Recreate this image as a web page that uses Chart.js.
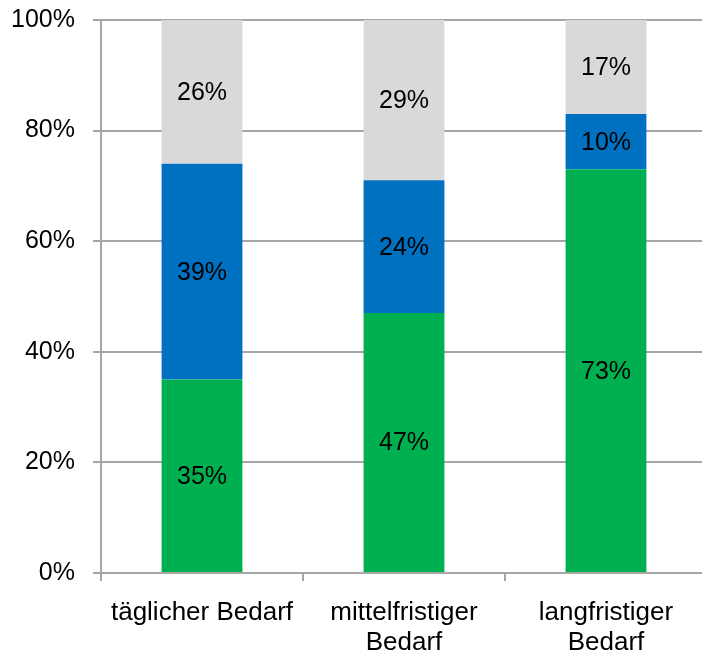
<!DOCTYPE html>
<html>
<head>
<meta charset="utf-8">
<script src="https://cdn.jsdelivr.net/npm/chart.js@4.4.1/dist/chart.umd.min.js"></script>
<style>
  html, body { margin: 0; padding: 0; background: #fff; overflow: hidden; }
  #wrap { position: relative; width: 712px; height: 666px; margin-top: -13px; }
</style>
</head>
<body>
<div id="wrap"><canvas id="chart"></canvas></div>
<script>
const categories = [
  "täglicher Bedarf",
  ["mittelfristiger", "Bedarf"],
  ["langfristiger", "Bedarf"],
];
const greenValues = [35, 47, 73];
const blueValues = [39, 24, 10];
const greyValues = [26, 29, 17];
const yTicks = [0, 20, 40, 60, 80, 100];

const FONT = "'Liberation Sans', Arial, sans-serif";
const AXIS_COLOR = "#a6a6a6";

// draws the percentage in the middle of every segment
const segmentLabels = {
  id: "segmentLabels",
  afterDatasetsDraw(chart) {
    const { ctx } = chart;
    ctx.save();
    ctx.font = `25px ${FONT}`;
    ctx.fillStyle = "#000";
    ctx.textAlign = "center";
    ctx.textBaseline = "middle";
    chart.data.datasets.forEach((ds, di) => {
      chart.getDatasetMeta(di).data.forEach((bar, i) => {
        const { x, y, base } = bar.getProps(["x", "y", "base"], true);
        ctx.fillText(`${ds.data[i]}%`, x, (y + base) / 2 + 1);
      });
    });
    ctx.restore();
  },
};

new Chart(document.getElementById("chart"), {
  type: "bar",
  data: {
    labels: categories,
    datasets: [
      { data: greenValues, backgroundColor: "#00b050" },
      { data: blueValues, backgroundColor: "#0070c0" },
      { data: greyValues, backgroundColor: "#d9d9d9" },
    ],
  },
  options: {
    responsive: true,
    maintainAspectRatio: false,
    animation: false,
    events: [],
    layout: { padding: { top: 7, right: 5, left: 0, bottom: 0 } },
    datasets: { bar: { categoryPercentage: 0.4, barPercentage: 1, borderWidth: 0 } },
    plugins: { legend: { display: false }, tooltip: { enabled: false } },
    scales: {
      x: {
        stacked: true,
        offset: true,
        border: { color: AXIS_COLOR, width: 2 },
        grid: {
          offset: true,
          drawOnChartArea: false,
          color: AXIS_COLOR,
          lineWidth: 2,
          tickLength: 8,
        },
        ticks: {
          color: "#000",
          padding: 17,
          maxRotation: 0,
          font: { family: FONT, size: 26, lineHeight: 1.15 },
        },
        afterFit(scale) { scale.height = 80; },
      },
      y: {
        stacked: true,
        min: 0,
        max: 100,
        afterBuildTicks(scale) { scale.ticks = yTicks.map((v) => ({ value: v })); },
        border: { color: AXIS_COLOR, width: 2 },
        grid: { color: AXIS_COLOR, lineWidth: 2, tickLength: 8 },
        ticks: {
          color: "#000",
          padding: 18,
          font: { family: FONT, size: 25 },
          callback: (v) => `${v}%`,
        },
        afterFit(scale) { scale.width = 101; },
      },
    },
  },
  plugins: [segmentLabels],
});
</script>
</body>
</html>
